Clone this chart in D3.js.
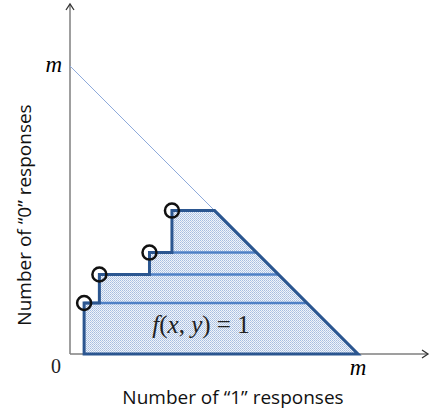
<!DOCTYPE html>
<html><head><meta charset="utf-8">
<script src="https://cdn.jsdelivr.net/npm/d3@7"></script>
<style>html,body{margin:0;padding:0;background:#fff;}svg{display:block;}</style>
</head><body>
<script>
// data (m = 100)
const M = 100;
const stepX = [4.9, 10.2, 27.6, 35.4];
const stepY = [17.7, 27.6, 35.2, 49.8];
const axisLabels = ["Number of \u201c1\u201d responses", "Number of \u201c0\u201d responses"];
const tickLabels = ["0", "m"];

const W = 430, H = 417;
const svg = d3.select("body").append("svg").attr("width", W).attr("height", H);
const x = d3.scaleLinear().domain([0, M]).range([70, 358]);
const y = d3.scaleLinear().domain([0, M]).range([354, 66]);

const defs = svg.append("defs");
const pat = defs.append("pattern").attr("id", "dots").attr("patternUnits", "userSpaceOnUse")
  .attr("width", 2).attr("height", 2);
pat.append("rect").attr("width", 2).attr("height", 2).attr("fill", "#f0f4fa");
pat.append("rect").attr("x", 0).attr("y", 0).attr("width", 1).attr("height", 1).attr("fill", "#a7bde0");
pat.append("rect").attr("x", 1).attr("y", 1).attr("width", 1).attr("height", 1).attr("fill", "#b9cbe7");

// axes
const axCol = "#7f7f7f";
svg.append("line").attr("x1", x(0)).attr("y1", y(0)).attr("x2", x(0)).attr("y2", 4)
  .attr("stroke", axCol).attr("stroke-width", 1.5);
svg.append("line").attr("x1", x(0)).attr("y1", y(0)).attr("x2", 428).attr("y2", y(0))
  .attr("stroke", axCol).attr("stroke-width", 1.5);
svg.append("path").attr("d", `M${x(0)-4},${10} L${x(0)},${4} L${x(0)+4},${10}`)
  .attr("fill", "none").attr("stroke", "#333").attr("stroke-width", 1.3);
svg.append("path").attr("d", `M${422},${y(0)-4} L${428},${y(0)} L${422},${y(0)+4}`)
  .attr("fill", "none").attr("stroke", "#333").attr("stroke-width", 1.3);

// diagonal
svg.append("line").attr("x1", x(0)).attr("y1", y(M)).attr("x2", x(M)).attr("y2", y(0))
  .attr("stroke", "#8eaadb").attr("stroke-width", 1);

// polygon
const pts = [[stepX[0], 0]];
stepX.forEach((sx, i) => {
  if (i > 0) pts.push([sx, stepY[i-1]]);
  pts.push([sx, stepY[i]]);
});
pts.push([M - stepY[stepY.length-1], stepY[stepY.length-1]]);
pts.push([M, 0]);
const line = d3.line().x(d => x(d[0])).y(d => y(d[1]));
svg.append("path").attr("d", line(pts) + "Z").attr("fill", "url(#dots)");

// inner horizontal lines
for (let i = 0; i < stepY.length - 1; i++) {
  svg.append("line").attr("x1", x(stepX[i])).attr("x2", x(M - stepY[i]))
    .attr("y1", y(stepY[i])).attr("y2", y(stepY[i]))
    .attr("stroke", "#4f80c6").attr("stroke-width", 2.5);
}
svg.append("path").attr("d", line(pts) + "Z").attr("fill", "none")
  .attr("stroke", "#2b5690").attr("stroke-width", 3).attr("stroke-linejoin", "miter");

// circles
stepX.forEach((sx, i) => {
  svg.append("circle").attr("cx", x(sx)).attr("cy", y(stepY[i])).attr("r", 7)
    .attr("fill", "none").attr("stroke", "#111").attr("stroke-width", 2.5);
});

// labels
const serif = "'Liberation Serif', 'DejaVu Serif', serif";
svg.append("text").attr("x", x(0) - 8).attr("y", y(M) + 6).attr("text-anchor", "end")
  .attr("font-family", serif).attr("font-style", "italic").attr("font-size", 23).text(tickLabels[1]);
svg.append("text").attr("x", x(M)).attr("y", 375).attr("text-anchor", "middle")
  .attr("font-family", serif).attr("font-style", "italic").attr("font-size", 23).text(tickLabels[1]);
svg.append("text").attr("x", 56).attr("y", 373).attr("text-anchor", "middle")
  .attr("font-family", serif).attr("font-size", 20).attr("fill", "#222").text(tickLabels[0]);

const ft = svg.append("text").attr("x", 201).attr("y", 333).attr("text-anchor", "middle")
  .attr("font-family", serif).attr("font-size", 25).attr("fill", "#222");
ft.append("tspan").attr("font-style", "italic").text("f");
ft.append("tspan").text("(");
ft.append("tspan").attr("font-style", "italic").text("x");
ft.append("tspan").text(", ");
ft.append("tspan").attr("font-style", "italic").text("y");
ft.append("tspan").text(") = 1");

const sans = "'Open Sans', 'Noto Sans', sans-serif";
svg.append("text").attr("x", 233).attr("y", 404).attr("text-anchor", "middle")
  .attr("font-family", sans).attr("font-size", 19).attr("fill", "#111").text(axisLabels[0]);
svg.append("text").attr("transform", "translate(31,215) rotate(-90)").attr("text-anchor", "middle")
  .attr("font-family", sans).attr("font-size", 19).attr("fill", "#111").text(axisLabels[1]);
</script>
</body></html>
